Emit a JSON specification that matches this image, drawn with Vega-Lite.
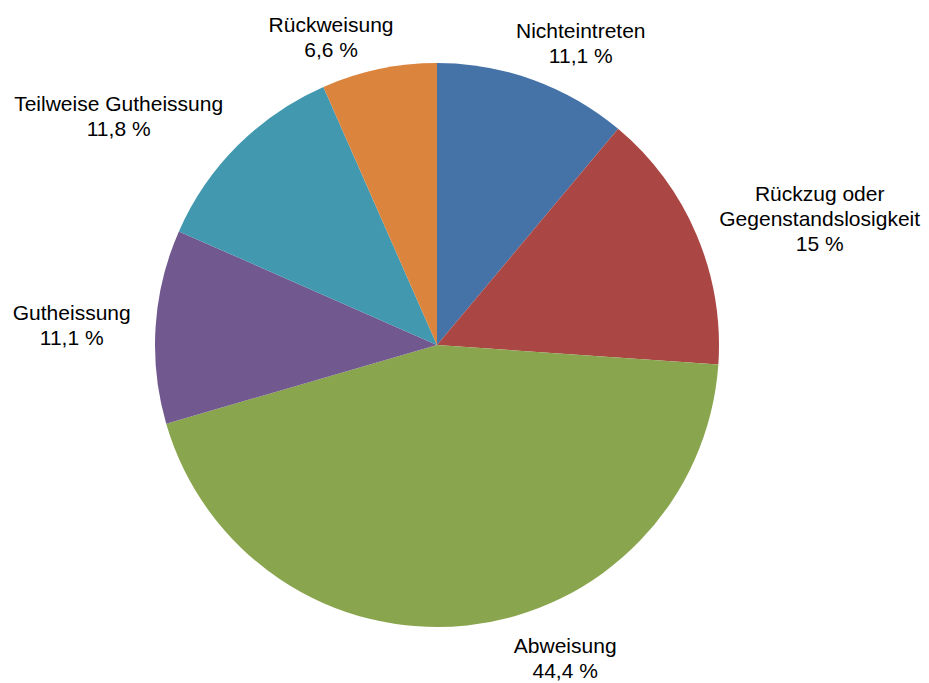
{
  "$schema": "https://vega.github.io/schema/vega-lite/v6.json",
  "width": 874,
  "height": 678,
  "autosize": {"type": "none"},
  "padding": {"left": 0, "top": 6, "right": 55, "bottom": 0},
  "background": "white",
  "view": {"stroke": null},
  "data": {
    "values": [
      {"idx": 1, "category": "Nichteintreten", "value": 11.1, "label": "Nichteintreten\n11,1 %"},
      {"idx": 2, "category": "Rückzug oder Gegenstandslosigkeit", "value": 15, "label": "Rückzug oder\nGegenstandslosigkeit\n15 %"},
      {"idx": 3, "category": "Abweisung", "value": 44.4, "label": "Abweisung\n44,4 %"},
      {"idx": 4, "category": "Gutheissung", "value": 11.1, "label": "Gutheissung\n11,1 %"},
      {"idx": 5, "category": "Teilweise Gutheissung", "value": 11.8, "label": "Teilweise Gutheissung\n11,8 %"},
      {"idx": 6, "category": "Rückweisung", "value": 6.6, "label": "Rückweisung\n6,6 %"}
    ]
  },
  "encoding": {
    "theta": {"field": "value", "type": "quantitative", "stack": true},
    "order": {"field": "idx", "type": "quantitative"}
  },
  "layer": [
    {
      "mark": {"type": "arc", "outerRadius": 282},
      "encoding": {
        "color": {
          "field": "category",
          "type": "nominal",
          "scale": {
            "domain": ["Nichteintreten", "Rückzug oder Gegenstandslosigkeit", "Abweisung", "Gutheissung", "Teilweise Gutheissung", "Rückweisung"],
            "range": ["#4572A7", "#AA4643", "#89A54E", "#71588F", "#4198AF", "#DB843D"]
          },
          "legend": null
        }
      }
    },
    {
      "mark": {"type": "text", "radius": 330, "dx": 31, "dy": -2.5, "font": "Liberation Sans", "fontSize": 21, "lineBreak": "\n", "lineHeight": 25, "align": "center", "baseline": "middle", "color": "#000000"},
      "encoding": {"text": {"condition": {"test": "datum.idx === 1", "field": "label"}, "value": ""}}
    },
    {
      "mark": {"type": "text", "radius": 330, "dx": 79, "dy": -21, "font": "Liberation Sans", "fontSize": 21, "lineBreak": "\n", "lineHeight": 25, "align": "center", "baseline": "middle", "color": "#000000"},
      "encoding": {"text": {"condition": {"test": "datum.idx === 2", "field": "label"}, "value": ""}}
    },
    {
      "mark": {"type": "text", "radius": 330, "dx": 93, "dy": -26.5, "font": "Liberation Sans", "fontSize": 21, "lineBreak": "\n", "lineHeight": 25, "align": "center", "baseline": "middle", "color": "#000000"},
      "encoding": {"text": {"condition": {"test": "datum.idx === 3", "field": "label"}, "value": ""}}
    },
    {
      "mark": {"type": "text", "radius": 330, "dx": -36, "dy": -9.5, "font": "Liberation Sans", "fontSize": 21, "lineBreak": "\n", "lineHeight": 25, "align": "center", "baseline": "middle", "color": "#000000"},
      "encoding": {"text": {"condition": {"test": "datum.idx === 4", "field": "label"}, "value": ""}}
    },
    {
      "mark": {"type": "text", "radius": 330, "dx": -85, "dy": -6.5, "font": "Liberation Sans", "fontSize": 21, "lineBreak": "\n", "lineHeight": 25, "align": "center", "baseline": "middle", "color": "#000000"},
      "encoding": {"text": {"condition": {"test": "datum.idx === 5", "field": "label"}, "value": ""}}
    },
    {
      "mark": {"type": "text", "radius": 330, "dx": -38, "dy": 3.5, "font": "Liberation Sans", "fontSize": 21, "lineBreak": "\n", "lineHeight": 25, "align": "center", "baseline": "middle", "color": "#000000"},
      "encoding": {"text": {"condition": {"test": "datum.idx === 6", "field": "label"}, "value": ""}}
    }
  ]
}
